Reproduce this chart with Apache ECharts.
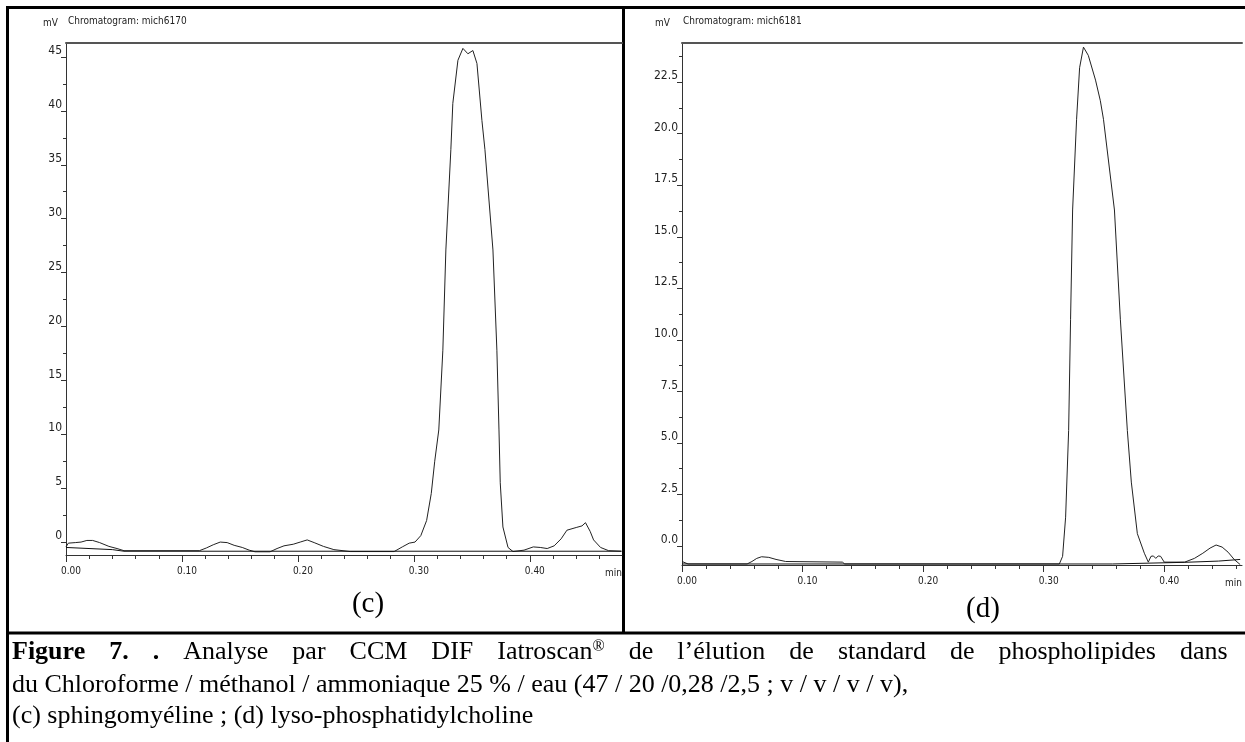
<!DOCTYPE html>
<html>
<head>
<meta charset="utf-8">
<script src="https://cdn.jsdelivr.net/npm/echarts@6/dist/echarts.min.js"></script>
<style>
html, body { margin: 0; padding: 0; background: #fff; }
#main { width: 1245px; height: 742px; }
</style>
</head>
<body>
<div id="main"></div>
<script>
// (c) sphingomyeline : [time (min), signal (mV)]
var signalC = [
  [0.000,-0.45],[0.002,-0.1],[0.008,-0.05],[0.013,0.0],[0.018,0.15],[0.023,0.15],[0.029,-0.05],[0.037,-0.4],[0.044,-0.6],[0.050,-0.8],
  [0.115,-0.8],[0.121,-0.55],[0.127,-0.25],[0.133,0.0],[0.139,-0.05],[0.145,-0.3],[0.152,-0.5],[0.158,-0.75],[0.163,-0.9],[0.176,-0.9],
  [0.182,-0.6],[0.188,-0.35],[0.196,-0.2],[0.202,0.0],[0.208,0.2],[0.214,-0.05],[0.222,-0.4],[0.231,-0.7],[0.245,-0.88],
  [0.283,-0.88],[0.290,-0.45],[0.296,-0.1],[0.301,0.0],[0.306,0.6],[0.311,2.0],[0.315,4.5],[0.318,7.5],[0.3215,10.4],[0.325,17.8],
  [0.3276,27.1],[0.3319,36.4],[0.3336,40.7],[0.338,44.7],[0.3423,45.8],[0.3466,45.3],[0.3509,45.6],[0.3544,44.4],[0.3587,39.1],
  [0.3613,36.4],[0.3682,27.1],[0.3716,17.8],[0.3734,10.4],[0.3745,5.5],[0.3768,1.4],[0.3812,-0.5],[0.3855,-0.88],
  [0.395,-0.75],[0.403,-0.45],[0.409,-0.5],[0.415,-0.6],[0.421,-0.35],[0.427,0.3],[0.432,1.1],[0.440,1.35],[0.445,1.5],[0.448,1.8],
  [0.452,1.0],[0.455,0.2],[0.461,-0.5],[0.468,-0.8],[0.479,-0.85]
];
var baseC = [[0.000,-0.5],[0.040,-0.7],[0.050,-0.85],[0.479,-0.85]];

// (d) lyso-phosphatidylcholine
var signalD = [
  [0.000,-0.75],[0.005,-0.87],[0.054,-0.87],[0.058,-0.75],[0.062,-0.6],[0.066,-0.52],[0.072,-0.55],[0.078,-0.65],[0.086,-0.75],
  [0.133,-0.78],[0.135,-0.87],
  [0.313,-0.87],[0.3157,-0.5],[0.3182,1.4],[0.3207,5.6],[0.3223,11.0],[0.324,16.3],[0.3273,20.7],[0.3298,23.2],[0.333,24.2],
  [0.337,23.8],[0.343,22.6],[0.347,21.6],[0.3496,20.7],[0.3587,16.3],[0.3636,11.0],[0.3694,5.6],[0.3727,3.1],[0.3777,0.6],
  [0.3835,-0.35],[0.3868,-0.78],
  [0.389,-0.5],[0.391,-0.48],[0.393,-0.6],[0.395,-0.48],[0.397,-0.5],[0.400,-0.78],
  [0.417,-0.78],[0.425,-0.6],[0.432,-0.35],[0.438,-0.1],[0.443,0.05],[0.448,-0.05],[0.453,-0.3],[0.458,-0.65],[0.463,-0.9]
];
var baseD = [[0,-0.87],[0.357,-0.87],[0.357,-0.79],[0.417,-0.79],[0.417,-0.73],[0.445,-0.73],[0.445,-0.65],[0.463,-0.65]];

// ticks
var xTicks = [0, 0.1, 0.2, 0.3, 0.4];
var xMinor = [0.02,0.04,0.06,0.08,0.12,0.14,0.16,0.18,0.22,0.24,0.26,0.28,0.32,0.34,0.36,0.38,0.42,0.44,0.46];
var yTicksC = [0,5,10,15,20,25,30,35,40,45];
var yMinorC = [2.5,7.5,12.5,17.5,22.5,27.5,32.5,37.5,42.5];
var yTicksD = [0,2.5,5,7.5,10,12.5,15,17.5,20,22.5];
var yMinorD = [1.25,3.75,6.25,8.75,11.25,13.75,16.25,18.75,21.25,23.75];

var smallFont = '"DejaVu Sans Condensed", "Liberation Sans Narrow", sans-serif';
var serif = '"Liberation Serif", "Times New Roman", serif';

function xAxes(gi, xMax) {
  return [
    {
      type: 'value', gridIndex: gi, min: 0, max: xMax, position: 'bottom',
      axisLine: { show: true, onZero: false, lineStyle: { color: '#333', width: 1 } },
      axisTick: { show: true, customValues: xTicks, length: 7, lineStyle: { color: '#333' } },
      axisLabel: { customValues: xTicks, formatter: function (v) { return v.toFixed(2); },
        fontFamily: smallFont, fontSize: 10, color: '#222', margin: 11, padding: [0, 0, 0, 10] },
      splitLine: { show: false },
      name: 'min', nameLocation: 'end', nameGap: 0,
      nameTextStyle: { fontFamily: smallFont, fontSize: 10, color: '#222', align: 'right', verticalAlign: 'top', padding: [13, 0, 0, 0] }
    },
    {
      type: 'value', gridIndex: gi, min: 0, max: xMax, position: 'bottom',
      axisLine: { show: false, onZero: false },
      axisTick: { show: true, customValues: xMinor, length: 4, lineStyle: { color: '#333' } },
      axisLabel: { show: false }, splitLine: { show: false }
    },
    {
      type: 'value', gridIndex: gi, min: 0, max: xMax, position: 'top',
      axisLine: { show: true, onZero: false, lineStyle: { color: '#555', width: 2 } },
      axisTick: { show: false }, axisLabel: { show: false }, splitLine: { show: false }
    }
  ];
}

function yAxes(gi, yMin, yMax, ticks, minor, digits, namePad) {
  return [
    {
      type: 'value', gridIndex: gi, min: yMin, max: yMax, position: 'left',
      axisLine: { show: true, onZero: false, lineStyle: { color: '#333', width: 1 } },
      axisTick: { show: true, customValues: ticks, length: 5, lineStyle: { color: '#333' } },
      axisLabel: { customValues: ticks, formatter: function (v) { return v.toFixed(digits); },
        fontFamily: smallFont, fontSize: 12, color: '#222', margin: 4, verticalAlign: 'bottom' },
      splitLine: { show: false },
      name: 'mV', nameLocation: 'end', nameGap: 20,
      nameTextStyle: { fontFamily: smallFont, fontSize: 10, color: '#222', align: 'right', verticalAlign: 'middle', padding: [0, namePad, 0, 0] }
    },
    {
      type: 'value', gridIndex: gi, min: yMin, max: yMax, position: 'left',
      axisLine: { show: false, onZero: false },
      axisTick: { show: true, customValues: minor, length: 3, lineStyle: { color: '#333' } },
      axisLabel: { show: false }, splitLine: { show: false }
    }
  ];
}

// caption, first line is justified to the cell width
var gap = '{g| }';
var captionLine1 = ['{b|Figure}', '{b|7.}', '{b|.}', 'Analyse', 'par', 'CCM', 'DIF', 'Iatroscan{s|®}', 'de',
  'l’élution', 'de', 'standard', 'de', 'phospholipides', 'dans'].join(gap);
var captionLine2 = 'du Chloroforme / méthanol / ammoniaque 25 % / eau (47 / 20 /0,28 /2,5 ; v / v / v / v),';
var captionLine3 = '(c) sphingomyéline ; (d) lyso-phosphatidylcholine';

var myChart = echarts.init(document.getElementById('main'));
var option = {
  backgroundColor: '#fff',
  animation: false,
  title: [
    { text: 'Chromatogram: mich6170', left: 68, top: 16, padding: 0,
      textStyle: { fontFamily: smallFont, fontSize: 10, fontWeight: 'normal', color: '#222' } },
    { text: 'Chromatogram: mich6181', left: 683, top: 16, padding: 0,
      textStyle: { fontFamily: smallFont, fontSize: 10, fontWeight: 'normal', color: '#222' } }
  ],
  grid: [
    { left: 66, top: 43, right: 623, bottom: 187 },
    { left: 682, top: 43, right: 0, bottom: 177 }
  ],
  xAxis: xAxes(0, 0.4795).concat(xAxes(1, 0.4645)),
  yAxis: yAxes(0, -1.2, 46.3, yTicksC, yMinorC, 0, 8).concat(yAxes(1, -0.92, 24.4, yTicksD, yMinorD, 1, 12)),
  series: [
    { name: 'signal (c)', type: 'line', xAxisIndex: 0, yAxisIndex: 0, data: signalC, showSymbol: false,
      lineStyle: { color: '#222', width: 1 } },
    { name: 'baseline (c)', type: 'line', xAxisIndex: 0, yAxisIndex: 0, data: baseC, showSymbol: false,
      lineStyle: { color: '#111', width: 1 } },
    { name: 'signal (d)', type: 'line', xAxisIndex: 3, yAxisIndex: 2, data: signalD, showSymbol: false,
      lineStyle: { color: '#222', width: 1 } },
    { name: 'baseline (d)', type: 'line', xAxisIndex: 3, yAxisIndex: 2, data: baseD, showSymbol: false,
      lineStyle: { color: '#111', width: 1 } }
  ],
  graphic: [
    // table borders
    { type: 'line', shape: { x1: 6, y1: 7.5, x2: 1245, y2: 7.5 }, style: { stroke: '#000', lineWidth: 3 } },
    { type: 'line', shape: { x1: 7.5, y1: 6, x2: 7.5, y2: 742 }, style: { stroke: '#000', lineWidth: 3 } },
    { type: 'line', shape: { x1: 623.5, y1: 6, x2: 623.5, y2: 634 }, style: { stroke: '#000', lineWidth: 3 } },
    { type: 'line', shape: { x1: 6, y1: 633, x2: 1245, y2: 633 }, style: { stroke: '#000', lineWidth: 3 } },
    // panel labels
    { type: 'text', style: { text: '(c)', x: 368, y: 604, align: 'center', verticalAlign: 'middle',
      fontFamily: serif, fontSize: 29, fill: '#000' } },
    { type: 'text', style: { text: '(d)', x: 983, y: 609, align: 'center', verticalAlign: 'middle',
      fontFamily: serif, fontSize: 29, fill: '#000' } },
    // caption
    { type: 'text', style: {
      text: captionLine1, x: 12, y: 652, verticalAlign: 'middle', fontFamily: serif, fontSize: 26, fill: '#000',
      rich: {
        b: { fontFamily: serif, fontSize: 26, fontWeight: 'bold', fill: '#000' },
        s: { fontFamily: serif, fontSize: 16, verticalAlign: 'top', fill: '#000' },
        g: { fontFamily: serif, fontSize: 26, width: 24 }
      } } },
    { type: 'text', style: { text: captionLine2, x: 12, y: 685, verticalAlign: 'middle',
      fontFamily: serif, fontSize: 26, fill: '#000' } },
    { type: 'text', style: { text: captionLine3, x: 12, y: 716, verticalAlign: 'middle',
      fontFamily: serif, fontSize: 26, fill: '#000' } }
  ]
};
myChart.setOption(option);
</script>
</body>
</html>
